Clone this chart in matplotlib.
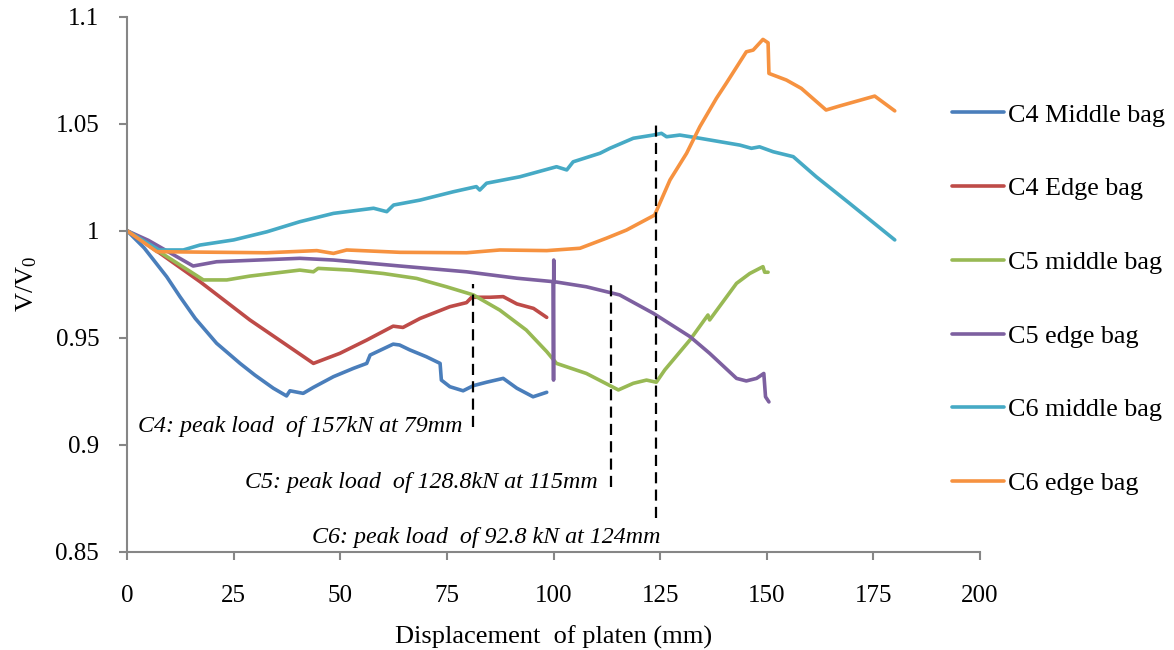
import matplotlib
matplotlib.use("Agg")
import matplotlib.pyplot as plt
import numpy as np

plt.rcParams['font.family'] = ['Liberation Serif', 'DejaVu Serif']
plt.rcParams['mathtext.fontset'] = 'custom'
plt.rcParams['mathtext.rm'] = 'Liberation Serif'
plt.rcParams['mathtext.it'] = 'Liberation Serif:italic'

# V/V0 against platen displacement (mm) for each bag
c4_mid_x = [0, 4, 9.3, 12.4, 16, 21.0, 26.5, 30, 34.3, 37.4, 38.2, 41.3, 43.7, 48.4, 53.1,
            56.2, 57.0, 62.4, 63.9, 66.3, 70.2, 73.4, 73.7, 75.7, 78.8, 81.2, 84.3, 88.2,
            91.4, 95.2, 98.4]
c4_mid_y = [1.0, 0.992, 0.9785, 0.9692, 0.959, 0.9474, 0.938, 0.9325, 0.9264, 0.9228,
            0.9252, 0.924, 0.9268, 0.9318, 0.9357, 0.938, 0.9419, 0.947, 0.9466, 0.9443,
            0.9411, 0.938, 0.9302, 0.9271, 0.9252, 0.9276, 0.9292, 0.931, 0.9264, 0.9224,
            0.9245]

c4_edge_x = [0, 7.7, 17.1, 28.8, 37.4, 43.7, 49.9, 56.2, 62.4, 64.7, 68.7, 75.7, 79.6,
             80.8, 85.1, 88.2, 91.4, 95.3, 98.4]
c4_edge_y = [1.0, 0.9895, 0.9762, 0.9583, 0.9466, 0.938, 0.9427, 0.9489, 0.9554, 0.9548,
             0.959, 0.9645, 0.9664, 0.9689, 0.9689, 0.9692, 0.9658, 0.9637, 0.9595]

c5_mid_x = [0, 7.7, 17.9, 23.4, 28.8, 40.5, 43.7, 44.8, 52.3, 60.1, 67.9, 74.9, 81.2,
            87.4, 93.6, 98.4, 100.7, 107.7, 115.2, 118.7, 121.8, 124.1, 126.1, 132.0,
            136.2, 136.6, 142.9, 146.0, 149.1, 149.5, 150.3]
c5_mid_y = [1.0, 0.990, 0.977, 0.977, 0.9788, 0.9816, 0.9808, 0.9824, 0.9816, 0.980,
            0.9777, 0.9738, 0.970, 0.9629, 0.9536, 0.9435, 0.938, 0.9333, 0.9256, 0.9287,
            0.9302, 0.9292, 0.935, 0.949, 0.9606, 0.9583, 0.9754, 0.980, 0.9832, 0.9806,
            0.9806]

c5_edge_x = [0, 5, 15.5, 21.0, 40.5, 48.4, 64.0, 79.6, 91.4, 99.9, 100.0, 100.05, 100.1,
             107.7, 115.5, 123.4, 132.0, 136.6, 142.9, 145.2, 147.6, 149.3, 149.7, 150.5]
c5_edge_y = [1.0, 0.9955, 0.9835, 0.9855, 0.9871, 0.9863, 0.9835, 0.9808, 0.9778, 0.9762,
             0.9302, 0.9863, 0.9762, 0.9738, 0.970, 0.9614, 0.9505, 0.9427, 0.931, 0.9298,
             0.931, 0.9333, 0.9224, 0.920]

c6_mid_x = [0, 7.5, 13.2, 17.1, 25.0, 32.8, 40.5, 48.4, 57.8, 60.9, 62.5, 68.7, 76.5,
            81.9, 82.7, 84.3, 92.1, 100.7, 103.1, 104.6, 110.9, 113.2, 118.7, 123.4, 125.3,
            126.5, 129.6, 134.3, 143.7, 146.4, 148.3, 151.5, 156.2, 161.6, 169.4, 180.0]
c6_mid_y = [1.0, 0.991, 0.991, 0.9933, 0.9957, 0.9995, 1.0042, 1.0081, 1.0105, 1.0089,
            1.012, 1.0143, 1.0182, 1.0206, 1.019, 1.0222, 1.0252, 1.0299, 1.0284, 1.0322,
            1.0362, 1.0385, 1.0432, 1.0447, 1.0455, 1.0439, 1.0447, 1.0432, 1.040, 1.0385,
            1.0392, 1.0369, 1.0346, 1.0252, 1.0128, 0.9957]

c6_edge_x = [0, 7.0, 17.1, 32.7, 44.5, 48.4, 51.5, 64.0, 79.6, 87.4, 98.4, 106.2, 112.4,
             117.1, 123.7, 127.3, 131.2, 134.3, 138.2, 140.5, 145.2, 146.8, 149.1, 150.3,
             150.5, 154.6, 158.1, 163.9, 167.1, 175.3, 180.0]
c6_edge_y = [1.0, 0.9902, 0.990, 0.9897, 0.9907, 0.9894, 0.991, 0.9899, 0.9897, 0.991,
             0.9907, 0.9918, 0.9965, 1.0003, 1.0073, 1.0237, 1.0362, 1.0486, 1.0619,
             1.0689, 1.0836, 1.0844, 1.0894, 1.0878, 1.0735, 1.0704, 1.0665, 1.0564,
             1.0583, 1.0629, 1.0560]

series = [
    ("C4 Middle bag", c4_mid_x, c4_mid_y, "#4A7EBB"),
    ("C4 Edge bag", c4_edge_x, c4_edge_y, "#BE4B48"),
    ("C5 middle bag", c5_mid_x, c5_mid_y, "#98B954"),
    ("C5 edge bag", c5_edge_x, c5_edge_y, "#7D60A0"),
    ("C6 middle bag", c6_mid_x, c6_mid_y, "#46AAC5"),
    ("C6 edge bag", c6_edge_x, c6_edge_y, "#F69240"),
]

# peak-load markers: x position, dashed line span, annotation text and its anchor
peak_x = [81.0, 113.4, 124.1]
peak_lo = [0.9085, 0.8804, 0.8656]
peak_hi = [0.975, 0.975, 1.0513]
peak_text = ["C4: peak load  of 157kN at 79mm",
             "C5: peak load  of 128.8kN at 115mm",
             "C6: peak load  of 92.8 kN at 124mm"]
text_x = [2.6, 27.7, 43.3]
text_y = [0.9084, 0.8822, 0.8567]

fig = plt.figure(figsize=(11.74, 6.5), dpi=100)
ax = fig.add_axes([0.1082, 0.1512, 0.7266, 0.8231])

for label, x, y, c in series:
    ax.plot(x, y, color=c, lw=2.6, label=label, solid_joinstyle='round',
            solid_capstyle='round')

for px, lo, hi in zip(peak_x, peak_lo, peak_hi):
    ax.plot([px, px], [lo, hi], color='black', lw=1.6, ls=(0, (5, 2.8)))

for t, tx, ty in zip(peak_text, text_x, text_y):
    ax.text(tx, ty, t, fontsize=17.3, style='italic', va='center', ha='left')

ax.set_xlim(0, 200)
ax.set_ylim(0.85, 1.1)
ax.set_xticks(np.arange(0, 201, 25))
ax.set_yticks([0.85, 0.9, 0.95, 1.0, 1.05, 1.1])
ax.set_yticklabels(["0.85", "0.9", "0.95", "1", "1.05", "1.1"])

for s in ['top', 'right']:
    ax.spines[s].set_visible(False)
for s in ['left', 'bottom']:
    ax.spines[s].set_color('#868686')
    ax.spines[s].set_linewidth(1.5)
ax.tick_params(axis='both', direction='out', length=6, width=1.5, color='#868686',
               labelsize=18, pad=14)
ax.tick_params(axis='x', pad=18)

ax.set_xlabel("Displacement  of platen (mm)", fontsize=19, labelpad=13)
ax.set_ylabel(r"V/V$_0$", fontsize=19, labelpad=12)

ax.legend(loc='upper left', bbox_to_anchor=(0.811, 0.841), bbox_transform=fig.transFigure,
          frameon=False, fontsize=18.8, handlelength=2.0, handletextpad=0.15,
          labelspacing=1.93, borderaxespad=0, borderpad=0)

fig.savefig("out.png", dpi=100)
